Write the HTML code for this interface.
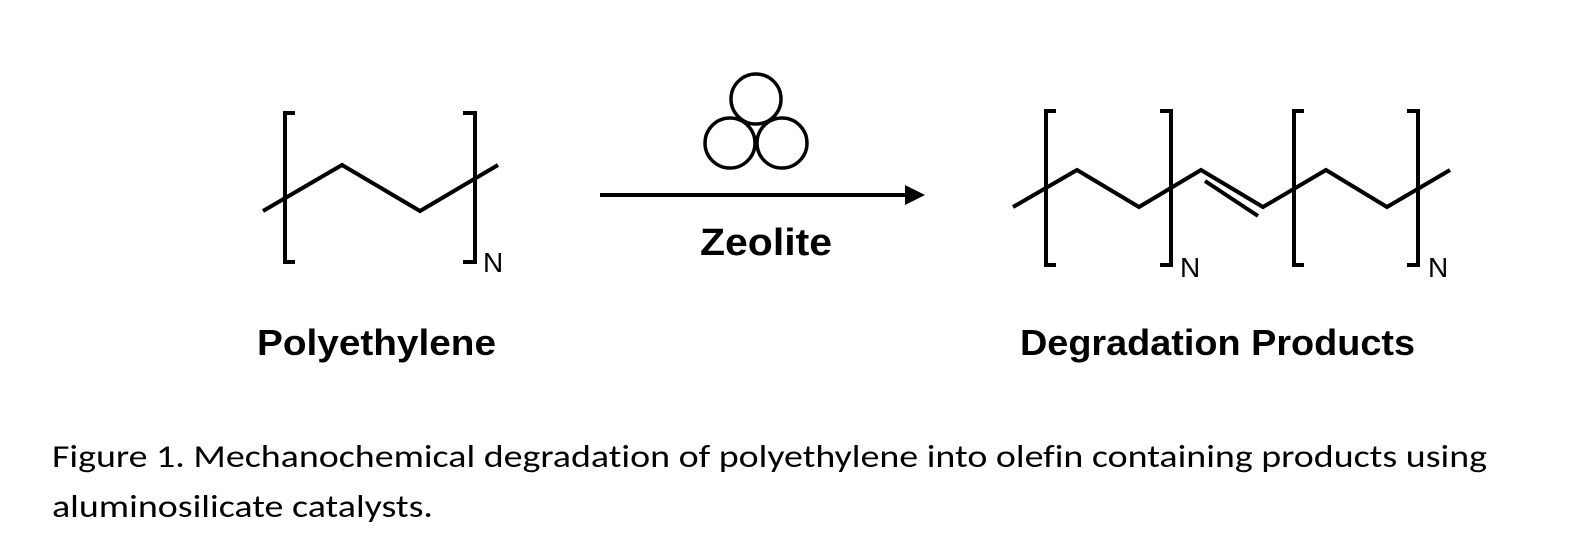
<!DOCTYPE html>
<html><head><meta charset="utf-8"><style>
html,body{margin:0;padding:0;background:#fff;}
svg{display:block;}
text{font-variant-ligatures:none;font-feature-settings:"liga" 0,"clig" 0;}
</style></head><body>
<svg width="1587" height="546" viewBox="0 0 1587 546" xmlns="http://www.w3.org/2000/svg">
<g fill="none" stroke="#000" stroke-width="4" stroke-linecap="butt" stroke-linejoin="miter">
  <!-- left structure -->
  <polyline points="295,113 285,113 285,262 295,262"/>
  <polyline points="463,113 475,113 475,262 463,262"/>
  <polyline points="263,211 342,165 420,211 498,165"/>
  <!-- right structure -->
  <polyline points="1056,111 1046,111 1046,265 1056,265"/>
  <polyline points="1160,111 1171,111 1171,265 1160,265"/>
  <polyline points="1304,111 1294,111 1294,265 1304,265"/>
  <polyline points="1407,111 1418,111 1418,265 1407,265"/>
  <polyline points="1013,207 1077,170 1139,207 1201,170 1263,207 1326,170 1387,207 1450,170"/>
  <line x1="1205" y1="181" x2="1258" y2="216"/>
  <!-- circles -->
  <circle cx="756" cy="99" r="25" stroke-width="3.5"/>
  <circle cx="730" cy="143" r="25" stroke-width="3.5"/>
  <circle cx="782" cy="143" r="25" stroke-width="3.5"/>
  <!-- arrow -->
  <line x1="600" y1="195" x2="908" y2="195"/>
</g>
<polygon points="905,185 925,195 905,205" fill="#000"/>
<g font-family="Liberation Sans, Arial, sans-serif" fill="#000">
  <text x="483" y="272" font-size="28">N</text>
  <text x="1180" y="277" font-size="28">N</text>
  <text x="1428" y="277" font-size="28">N</text>
  <text x="700" y="255" font-size="38" font-weight="bold" textLength="132" lengthAdjust="spacingAndGlyphs">Zeolite</text>
  <text x="257" y="355" font-size="36" font-weight="bold" textLength="239" lengthAdjust="spacingAndGlyphs">Polyethylene</text>
  <text x="1020" y="355" font-size="36" font-weight="bold" textLength="395" lengthAdjust="spacingAndGlyphs">Degradation Products</text>
</g>
<g font-family="Carlito, Liberation Sans, sans-serif" fill="#000" font-size="32">
  <text x="52" y="467" textLength="1435" lengthAdjust="spacingAndGlyphs">Figure 1. Mechanochemical degradation of polyethylene into olefin containing products using</text>
  <text x="52" y="517" textLength="381" lengthAdjust="spacingAndGlyphs">aluminosilicate catalysts.</text>
</g>
</svg>
</body></html>
